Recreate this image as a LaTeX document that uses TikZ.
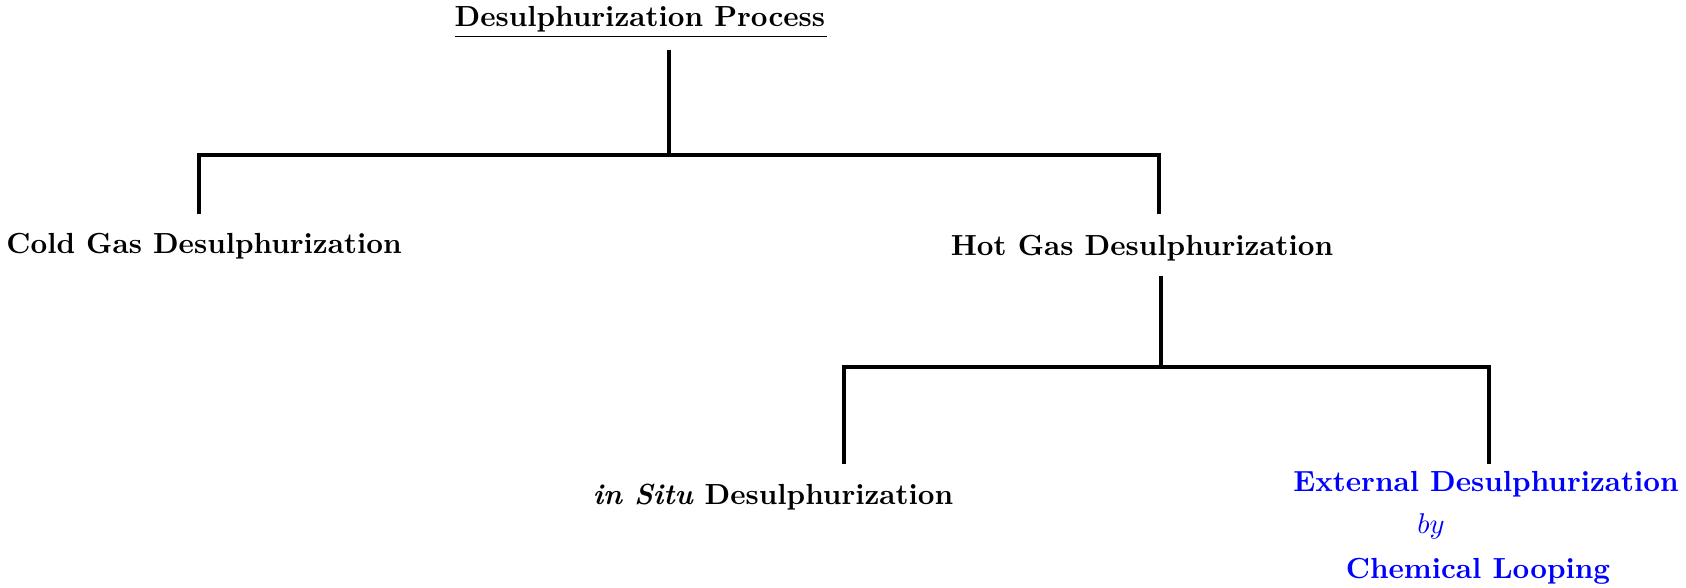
\documentclass[tikz,border=0pt]{standalone}
\begin{document}
\begin{tikzpicture}[x=0.3509pt,y=-0.3509pt,
  lbl/.style={inner sep=0pt,font=\fontsize{10.2}{12}\selectfont\bfseries,anchor=base},
  blu/.style={lbl,text=blue},
  tree/.style={line width=1.1pt,line join=miter}]
\useasboundingbox (0,0) rectangle (1686,588);
% labels
\node[lbl] (root) at (641,27) {\underline{Desulphurization Process\hspace{0.8pt}}};
\node[lbl] (cold) at (204,254) {Cold Gas Desulphurization};
\node[lbl] (hot) at (1142,256) {Hot Gas Desulphurization};
\node[lbl] (situ) at (773,505) {\textit{in Situ} Desulphurization};
\node[blu] (ext) at (1486,491) {External Desulphurization};
\node[inner sep=0pt,anchor=base,text=blue,font=\fontsize{10.2}{12}\selectfont] (by) at (1431,534) {$by$};
\node[blu] (chem) at (1478,578) {Chemical Looping};
% junction points
\coordinate (rootb) at (669,50);
\coordinate (j1) at (669,155);
\coordinate (b1l) at (199,155);
\coordinate (b1r) at (1159,155);
\coordinate (coldt) at (199,214);
\coordinate (hott) at (1159,214);
\coordinate (hotb) at (1161,276);
\coordinate (j2) at (1161,366);
\coordinate (b2l) at (844,367);
\coordinate (b2r) at (1489,367);
\coordinate (situt) at (844,464);
\coordinate (extt) at (1489,464);
% connectors
\draw[tree,line width=1.3pt] (rootb) -- (j1);
\draw[tree] (coldt) -- (b1l) -- (b1r) -- (hott);
\draw[tree] (hotb) -- (j2);
\draw[tree] (situt) -- (b2l) -- (b2r) -- (extt);
\end{tikzpicture}
\end{document}
